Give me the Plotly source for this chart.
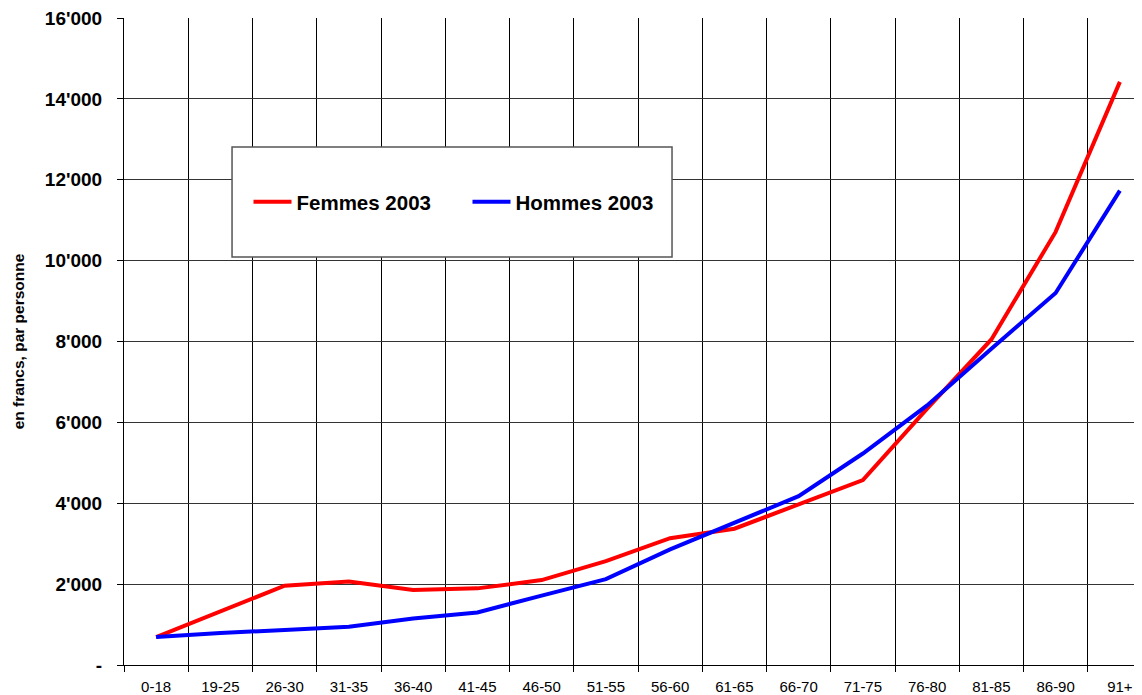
import plotly.graph_objects as go

categories = ["0-18", "19-25", "26-30", "31-35", "36-40", "41-45", "46-50", "51-55",
              "56-60", "61-65", "66-70", "71-75", "76-80", "81-85", "86-90", "91+"]
femmes_2003 = [690, 1320, 1960, 2065, 1855, 1895, 2100, 2570,
               3135, 3370, 3975, 4575, 6340, 8050, 10710, 14420]
hommes_2003 = [690, 790, 865, 945, 1150, 1300, 1715, 2125,
               2860, 3510, 4175, 5230, 6420, 7820, 9200, 11730]
y_tickvals = [0, 2000, 4000, 6000, 8000, 10000, 12000, 14000, 16000]
y_ticktext = ["-", "2'000", "4'000", "6'000", "8'000", "10'000", "12'000", "14'000", "16'000"]

FONT = "Arial, 'Liberation Sans', sans-serif"
xs = list(range(len(categories)))

fig = go.Figure()
fig.add_trace(go.Scatter(x=xs, y=femmes_2003, mode="lines", name="Femmes 2003",
                         line=dict(color="#FF0000", width=4)))
fig.add_trace(go.Scatter(x=xs, y=hommes_2003, mode="lines", name="Hommes 2003",
                         line=dict(color="#0000FF", width=4)))

fig.update_layout(
    width=1150, height=695,
    margin=dict(l=116, r=6, t=10, b=38),
    paper_bgcolor="white", plot_bgcolor="white",
    font=dict(family=FONT, color="black"),
    showlegend=True,
    legend=dict(orientation="h", x=0.1211, y=0.7156, xanchor="left", yanchor="middle",
                bgcolor="rgba(0,0,0,0)", borderwidth=0,
                font=dict(family=FONT, size=20.5, color="black", weight="bold"),
                entrywidth=166, itemwidth=38),
    xaxis=dict(
        automargin=False,
        range=[-0.5, 15.5], tickmode="array", tickvals=xs, ticktext=categories,
        ticks="outside", ticklen=8, tickcolor="rgba(0,0,0,0)",
        showgrid=False, zeroline=False,
        showline=True, linecolor="black", linewidth=1,
        tickfont=dict(family=FONT, size=15, color="black"),
        minor=dict(tick0=-0.5, dtick=1, showgrid=True, gridcolor="black", gridwidth=1,
                   ticks="outside", ticklen=6, tickcolor="black"),
    ),
    yaxis=dict(
        automargin=False,
        range=[0, 16000], tickmode="array", tickvals=y_tickvals, ticktext=y_ticktext,
        ticks="outside", ticklen=6, tickcolor="black",
        showgrid=True, gridcolor="#333333", gridwidth=1, zeroline=False,
        showline=True, linecolor="black", linewidth=1,
        tickfont=dict(family=FONT, size=19, color="black", weight="bold"),
        ticklabelstandoff=11, ticklabeloverflow="allow",
        title=dict(text="en francs, par personne", standoff=16,
                   font=dict(family=FONT, size=15.5, color="black", weight="bold")),
    ),
    shapes=[dict(type="rect", xref="paper", yref="paper",
                 x0=0.1051, x1=0.5331, y0=0.6306, y1=0.8006,
                 line=dict(color="#555555", width=1.5), fillcolor="white", layer="above")],
)

fig.write_html("out.html")
